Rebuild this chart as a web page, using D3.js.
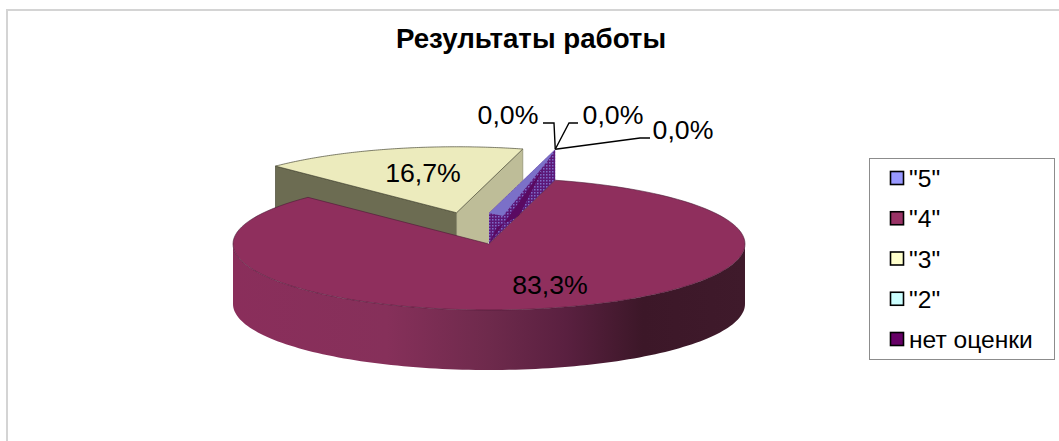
<!DOCTYPE html>
<html>
<head>
<meta charset="utf-8">
<script src="https://cdn.jsdelivr.net/npm/d3@7"></script>
<style>
  html, body { margin: 0; padding: 0; background: #fff; }
  svg { display: block; }
  text { font-family: "Liberation Sans", Arial, sans-serif; fill: #000; }
</style>
</head>
<body>
<svg id="chart" width="1059" height="441"></svg>
<script>
const categories = ['"5"', '"4"', '"3"', '"2"', 'нет оценки'];
const counts = [0, 5, 1, 0, 0];
const percentLabels = ['0,0%', '83,3%', '16,7%', '0,0%', '0,0%'];
const legendColors = ['#9999ff', '#993366', '#ffffcc', '#ccffff', '#660066'];

const svg = d3.select('#chart');
const defs = svg.append('defs');

// pie is tilted, so an angle goes to x/y through an ellipse
const cx = 489, cy = 244, rx = 256, ry = 66, depth = 60;
const explode = 0.49;

const slices = d3.pie().sort(null).value(d => d)
  .startAngle(15 * Math.PI / 180)
  .endAngle(375 * Math.PI / 180)(counts);

const px = (a, r = 1) => cx + rx * r * Math.sin(a);
const py = (a, r = 1) => cy - ry * r * Math.cos(a);

function arcPoints (a0, a1, dx, dy) {
  const pts = [];
  const n = 120;
  for (let i = 0; i <= n; i++) {
    const a = a0 + (a1 - a0) * i / n;
    pts.push([px(a) + dx, py(a) + dy]);
  }
  return pts;
}
const line = d3.line();

// frame
svg.append('path')
  .attr('d', 'M7,441V10H1059')
  .attr('fill', 'none').attr('stroke', '#d4d4d4').attr('stroke-width', 2);

svg.append('text').attr('x', 531).attr('y', 48).attr('text-anchor', 'middle')
  .attr('font-size', 27.7).attr('font-weight', 'bold').text('Результаты работы');

// gradients
const sideGrad = defs.append('linearGradient').attr('id', 'side');
[[0, '#8a2e5b'], [0.3, '#86305a'], [0.5, '#6e2a4c'], [0.65, '#5a2040'], [0.8, '#3c1728'], [1, '#3f1a2b']]
  .forEach(s => sideGrad.append('stop').attr('offset', s[0]).attr('stop-color', s[1]));

const dots = defs.append('pattern').attr('id', 'dots').attr('width', 3).attr('height', 3)
  .attr('patternUnits', 'userSpaceOnUse');
dots.append('rect').attr('width', 3).attr('height', 3).attr('fill', '#5c1878');
dots.append('rect').attr('width', 1.5).attr('height', 1.5).attr('fill', '#7d6cc8');

// exploded "3" slice, walls first
const s3 = slices[2];
const mid3 = (s3.startAngle + s3.endAngle) / 2;
const ox = rx * explode * Math.sin(mid3), oy = -ry * explode * Math.cos(mid3);
const apex3 = [cx + ox, cy + oy];
const p0 = [px(s3.startAngle) + ox, py(s3.startAngle) + oy];
const p1 = [px(s3.endAngle) + ox, py(s3.endAngle) + oy];
const darkEdge = '#4a4a36';

svg.append('path')
  .attr('d', line([p0, apex3, [apex3[0], apex3[1] + depth], [p0[0], p0[1] + depth]]) + 'Z')
  .attr('fill', '#6c6c52').attr('stroke', darkEdge).attr('stroke-width', 0.7);
svg.append('path')
  .attr('d', line([apex3, p1, [p1[0], p1[1] + depth], [apex3[0], apex3[1] + depth]]) + 'Z')
  .attr('fill', '#bebd98').attr('stroke', '#8d8c6e').attr('stroke-width', 0.7);
svg.append('path')
  .attr('d', line([apex3, ...arcPoints(s3.startAngle, s3.endAngle, ox, oy)]) + 'Z')
  .attr('fill', '#ecebbd').attr('stroke', darkEdge).attr('stroke-width', 0.7);

// wall of the empty slices, it sticks out above the big slice
const s4 = slices[1];
const wallRise = 31;
const tip = [px(s4.startAngle), py(s4.startAngle)];
const wall = [[cx, cy - wallRise], [tip[0], tip[1] - wallRise], tip, [cx, cy]];
svg.append('path').attr('d', line(wall) + 'Z').attr('fill', 'url(#dots)');
svg.append('path')
  .attr('d', line([wall[0], wall[1], [wall[1][0] - 8, wall[1][1] + 12], [wall[0][0] + 14, wall[0][1] + 3]]) + 'Z')
  .attr('fill', '#7b70c8');
svg.append('path')
  .attr('d', line([[wall[0][0] + 8, wall[0][1] + 14], [wall[0][0] + 30, wall[0][1] + 3], [wall[2][0] - 12, wall[2][1] - 12], wall[3]]) + 'Z')
  .attr('fill', '#5a0a62');

// big slice: side then top
const frontPts = arcPoints(Math.PI / 2, 3 * Math.PI / 2, 0, 0);
svg.append('path')
  .attr('d', line([...frontPts, ...frontPts.slice().reverse().map(p => [p[0], p[1] + depth])]) + 'Z')
  .attr('fill', 'url(#side)');
svg.append('path')
  .attr('d', line([[cx, cy], ...arcPoints(s4.startAngle, s4.endAngle, 0, 0)]) + 'Z')
  .attr('fill', '#8f2f5d').attr('stroke', '#4b1a35').attr('stroke-width', 0.6);

// labels
const labelFont = 26.7;
svg.append('text').attr('x', 550).attr('y', 294).attr('text-anchor', 'middle')
  .attr('font-size', labelFont).text(percentLabels[1]);
svg.append('text').attr('x', 423).attr('y', 182).attr('text-anchor', 'middle')
  .attr('font-size', labelFont).text(percentLabels[2]);

// leader lines for the zero labels
const zeroLabels = [
  { i: 0, x: 508, y: 124, line: [[543, 123], [554, 123]] },
  { i: 3, x: 613, y: 124, line: [[578, 123], [569, 123]] },
  { i: 4, x: 683, y: 139, line: [[650, 138], [640, 138]] }
];
const tipTop = wall[1];
zeroLabels.forEach(d => {
  svg.append('path').attr('d', line([...d.line, tipTop]))
    .attr('fill', 'none').attr('stroke', '#000').attr('stroke-width', 1.4);
  svg.append('text').attr('x', d.x).attr('y', d.y).attr('text-anchor', 'middle')
    .attr('font-size', labelFont).text(percentLabels[d.i]);
});

// legend
svg.append('rect').attr('x', 869.5).attr('y', 158.5).attr('width', 185).attr('height', 201)
  .attr('fill', '#fff').attr('stroke', '#8c8c8c').attr('stroke-width', 1);
const legendY = d3.scalePoint().domain(categories).range([178, 339]);
const legend = svg.selectAll('g.entry').data(categories).enter().append('g')
  .attr('class', 'entry')
  .attr('transform', d => `translate(890, ${legendY(d)})`);
legend.append('rect').attr('x', 0.5).attr('y', -6.5).attr('width', 13).attr('height', 13)
  .attr('fill', (d, i) => legendColors[i]).attr('stroke', '#000').attr('stroke-width', 1.6);
legend.append('text').attr('x', 19).attr('y', 9)
  .attr('font-size', 24.6).text(d => d);
</script>
</body>
</html>
